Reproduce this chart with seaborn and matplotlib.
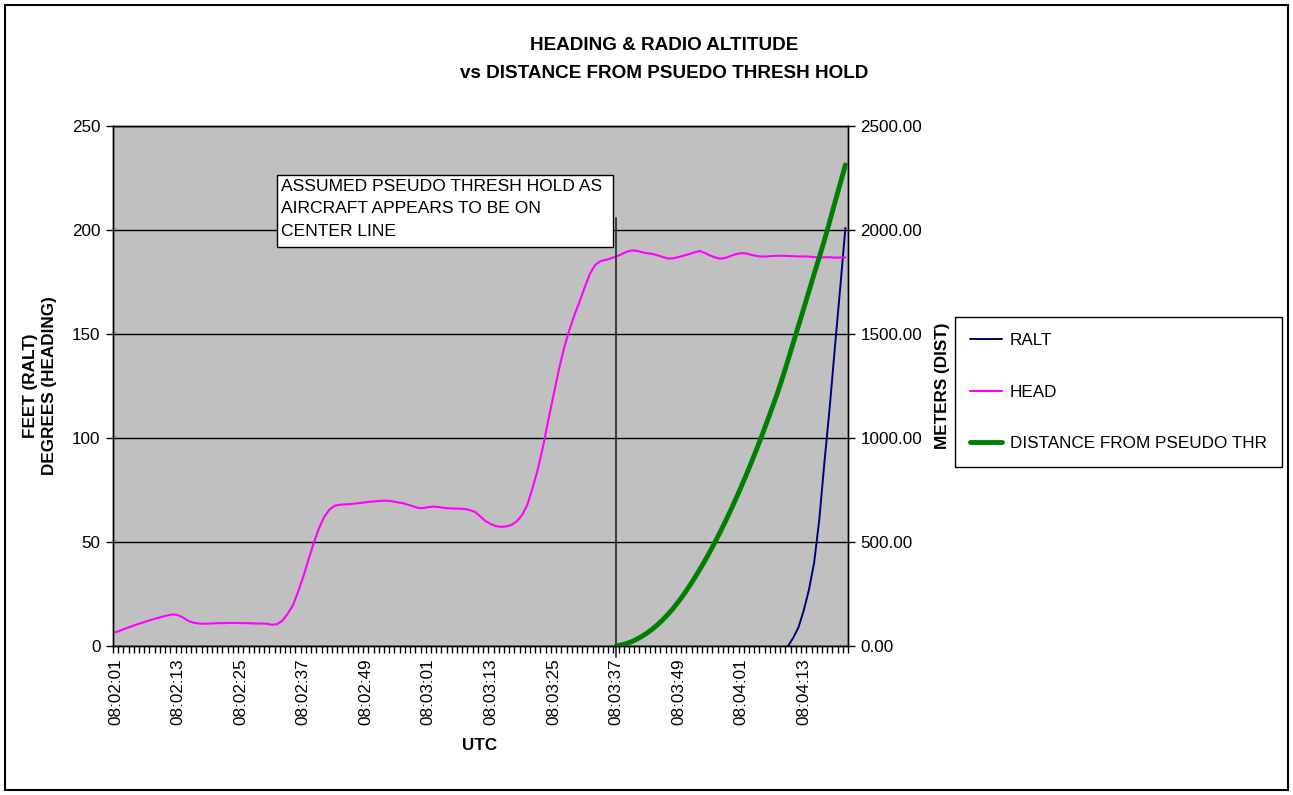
import numpy as np
import pandas as pd
import matplotlib
matplotlib.use("Agg")
import matplotlib.pyplot as plt
import seaborn as sns
from matplotlib.patches import Rectangle
from matplotlib.lines import Line2D

# One sample per second, 08:02:01 .. 08:04:21
utc = list(pd.date_range("2000-01-01 08:02:01", periods=141, freq="s").strftime("%H:%M:%S"))
tick_labels = ["08:02:01", "08:02:13", "08:02:25", "08:02:37", "08:02:49", "08:03:01",
               "08:03:13", "08:03:25", "08:03:37", "08:03:49", "08:04:01", "08:04:13"]

# Heading (degrees), every second
head = [6.6, 7.5, 8.5, 9.4, 10.3, 11.1, 11.9, 12.7, 13.4, 14.1,
        14.7, 15.2, 14.8, 13.6, 12.0, 11.2, 10.8, 10.7, 10.8, 10.9,
        11.0, 11.0, 11.1, 11.1, 11.0, 11.0, 10.9, 10.8, 10.8, 10.7,
        10.2, 10.5, 12.2, 15.5, 19.5, 26.0, 33.3, 41.5, 49.5, 56.5,
        62.0, 65.5, 67.4, 67.9, 68.1, 68.2, 68.5, 68.8, 69.1, 69.4,
        69.6, 69.8, 69.9, 69.6, 69.1, 68.7, 68.0, 67.2, 66.4, 66.3,
        66.8, 67.0, 66.8, 66.4, 66.2, 66.1, 66.0, 65.9, 65.3, 64.4,
        62.2, 60.0, 58.6, 57.6, 57.3, 57.5, 58.3, 60.0, 63.0, 68.0,
        76.0, 85.0, 96.0, 108.5, 120.5, 132.5, 143.0, 151.5, 159.0, 165.5,
        172.5, 179.0, 183.2, 185.0, 185.6, 186.4, 187.2, 188.3, 189.5, 190.2,
        190.0, 189.3, 188.8, 188.5, 187.8, 187.0, 186.3, 186.4, 187.0, 187.7,
        188.4, 189.2, 189.9, 189.0, 187.8, 186.8, 186.2, 186.6, 187.5, 188.4,
        188.9, 188.7, 188.0, 187.5, 187.2, 187.3, 187.5, 187.6, 187.6, 187.5,
        187.4, 187.3, 187.3, 187.2, 187.0, 186.8, 186.9, 186.9, 186.7, 186.8,
        186.8]

# Radio altitude (feet), recorded from 08:04:10
ralt_start = "08:04:10"
ralt = [0, 4, 9, 17, 27, 40, 61, 89, 115, 144, 172, 201]

# Distance from the pseudo threshold (meters), from 08:03:37
thr_utc = "08:03:37"
dist = [0, 5, 12, 21, 33, 47, 63, 82, 103, 127,
        153, 182, 214, 248, 285, 324, 365, 408, 453, 500,
        549, 600, 653, 708, 765, 824, 885, 948, 1013, 1080,
        1149, 1218, 1295, 1375, 1458, 1540, 1622, 1705, 1788, 1870,
        1953, 2043, 2133, 2223, 2313]

n = len(utc)
pos = np.arange(n)
i_ralt = utc.index(ralt_start)
i_thr = utc.index(thr_utc)

df = pd.DataFrame({
    "pos": pos,
    "utc": utc,
    "head": head,
    "ralt": np.r_[np.full(i_ralt, np.nan), ralt],
    "dist": np.r_[np.full(i_thr, np.nan), dist],
})

sns.set_style("ticks")
plt.rcParams["font.family"] = ["Liberation Sans", "DejaVu Sans"]
plt.rcParams["text.color"] = "black"
plt.rcParams["axes.labelcolor"] = "black"
plt.rcParams["xtick.color"] = "black"
plt.rcParams["ytick.color"] = "black"

W, H = 1293, 795
fig = plt.figure(figsize=(W / 100, H / 100), dpi=100)
fig.patch.set_facecolor("white")

ax = fig.add_axes([113 / W, 1 - 646 / H, (848 - 113) / W, (646 - 126) / H])
ax.set_facecolor("#C0C0C0")
ax2 = ax.twinx()

c_ralt, c_head, c_dist = "#000080", "#FF00FF", "#008000"

sns.lineplot(data=df.dropna(subset=["ralt"]), x="pos", y="ralt", ax=ax,
             color=c_ralt, linewidth=1.4, zorder=3)
sns.lineplot(data=df, x="pos", y="head", ax=ax, color=c_head, linewidth=1.5, zorder=3)
sns.lineplot(data=df.dropna(subset=["dist"]), x="pos", y="dist", ax=ax2,
             color=c_dist, linewidth=3.5, zorder=3)

# Axis ranges and ticks
ax.set_xlim(-0.5, n - 0.5)
ax.set_ylim(0, 250)
ax2.set_ylim(0, 2500)
ax.set_yticks(np.arange(0, 251, 50))
ax2.set_yticks(np.arange(0, 2501, 500))
ax2.set_yticklabels([f"{v:.2f}" for v in np.arange(0, 2501, 500)])
ax.set_xticks([utc.index(t) for t in tick_labels])
ax.set_xticklabels(tick_labels, rotation=90)
ax.set_xticks(np.arange(-0.5, n, 1), minor=True)
ax.tick_params(axis="x", which="major", length=0, pad=9, labelsize=12.3, colors="black")
ax.tick_params(axis="x", which="minor", length=5, width=1, color="black", direction="out")
ax.tick_params(axis="y", length=5, width=1, pad=4, labelsize=12.3, colors="black", direction="out")
ax2.tick_params(axis="y", length=5, width=1, pad=4, labelsize=12.3, colors="black", direction="out")

ax.yaxis.grid(True, color="black", linewidth=1)
ax.set_axisbelow(True)
ax.set_xlabel("")
ax.set_ylabel("")
ax2.set_ylabel("")
for a in (ax, ax2):
    for s in a.spines.values():
        s.set_color("black")
        s.set_linewidth(1)
        s.set_visible(True)

# Marker at the assumed pseudo threshold
ax.plot([i_thr, i_thr], [-5.3, 206], color="#333333", linewidth=1.3, clip_on=False, zorder=4)

# Annotation box
ax.add_patch(Rectangle((277 / W, 1 - 247 / H), (613 - 277) / W, (247 - 175) / H,
                       transform=fig.transFigure, facecolor="white", edgecolor="black",
                       linewidth=1, zorder=6, clip_on=False))
fig.text(281 / W, 1 - 179 / H,
         "ASSUMED PSEUDO THRESH HOLD AS\nAIRCRAFT APPEARS TO BE ON\nCENTER LINE",
         ha="left", va="top", fontsize=12.6, linespacing=1.62, zorder=7)

# Titles and axis labels
fig.text(664 / W, 1 - 46 / H, "HEADING & RADIO ALTITUDE", ha="center", va="center",
         fontsize=13.6, fontweight="bold")
fig.text(664 / W, 1 - 73 / H, "vs DISTANCE FROM PSUEDO THRESH HOLD", ha="center",
         va="center", fontsize=13.6, fontweight="bold")
fig.text(40 / W, 1 - 386 / H, "FEET (RALT)\nDEGREES (HEADING)", rotation=90,
         ha="center", va="center", multialignment="center", fontsize=12.3,
         fontweight="bold", linespacing=1.35)
fig.text(942 / W, 1 - 386 / H, "METERS (DIST)", rotation=90, ha="center",
         va="center", fontsize=12.3, fontweight="bold")
fig.text(480 / W, 1 - 745 / H, "UTC", ha="center", va="center", fontsize=12.3,
         fontweight="bold")

# Legend
handles = [Line2D([], [], color=c_ralt, linewidth=1.4),
           Line2D([], [], color=c_head, linewidth=1.5),
           Line2D([], [], color=c_dist, linewidth=3.5)]
leg = fig.legend(handles, ["RALT", "HEAD", "DISTANCE FROM PSEUDO THR"],
                 loc="center left", bbox_to_anchor=(955 / W, 1 - 392 / H),
                 frameon=True, fancybox=False, edgecolor="black", framealpha=1,
                 fontsize=12.3, handlelength=1.85, handletextpad=0.45,
                 labelspacing=2.15, borderpad=0.9, borderaxespad=0)
leg.get_frame().set_linewidth(1)

# Outer frame of the chart
fig.patches.append(Rectangle((5 / W, 5 / H), (1288 - 5) / W, (790 - 5) / H,
                             transform=fig.transFigure, fill=False,
                             edgecolor="black", linewidth=1.5))

fig.savefig("out.png", dpi=100)
